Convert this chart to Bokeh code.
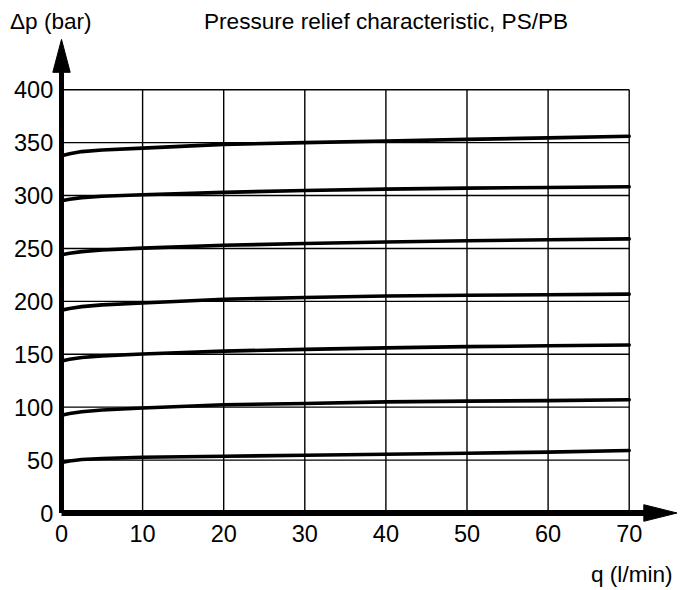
from bokeh.plotting import figure
from bokeh.models import Label, Range1d
from bokeh.core.properties import value
from bokeh.embed import file_html
from bokeh.resources import INLINE

# ---- data ----
flow = [0, 1, 2.5, 5, 10, 20, 30, 40, 50, 60, 70]          # q (l/min)
dp_350 = [337.5, 339.5, 341.5, 343.0, 344.8, 348.3, 350.0, 351.5, 353.0, 354.5, 356.0]
dp_300 = [295.0, 296.5, 298.0, 299.3, 300.7, 303.0, 304.7, 306.0, 307.0, 307.6, 308.3]
dp_250 = [244.0, 245.5, 247.0, 248.5, 250.3, 253.0, 254.6, 256.0, 257.2, 258.2, 259.0]
dp_200 = [191.7, 193.3, 195.0, 196.7, 198.5, 202.0, 203.6, 205.0, 205.7, 206.2, 206.8]
dp_150 = [143.7, 145.2, 147.0, 148.5, 150.2, 153.0, 154.6, 156.0, 157.2, 158.0, 158.7]
dp_100 = [92.3, 94.0, 95.7, 97.3, 99.2, 102.3, 103.5, 105.0, 105.7, 106.2, 107.0]
dp_50 = [47.7, 49.2, 50.5, 51.5, 52.7, 53.6, 54.5, 55.5, 56.5, 57.5, 59.0]
series = [dp_50, dp_100, dp_150, dp_200, dp_250, dp_300, dp_350]

x_ticks = [0, 10, 20, 30, 40, 50, 60, 70]
y_ticks = [0, 50, 100, 150, 200, 250, 300, 350, 400]
x_tick_labels = [str(t) for t in x_ticks]
y_tick_labels = [str(t) for t in y_ticks]

title_text = "Pressure relief characteristic, PS/PB"
y_label = "\u0394p (bar)"
x_label = "q (l/min)"

FONT = "Liberation Sans"

# scale: x=0 at 61 px, 8.11 px per l/min; y=0 at 512.5 px, 1.0583 px per bar
W, H = 683, 590
PXX, PXY = 8.11, 1.0583
X0, Y0 = 61.0, 512.5
x_range = Range1d(-X0 / PXX, (W - X0) / PXX)
y_range = Range1d(-(H - Y0) / PXY, Y0 / PXY)

p = figure(width=W, height=H, min_border=0, x_range=x_range, y_range=y_range,
           x_axis_location=None, y_axis_location=None, title=None,
           output_backend="svg", toolbar_location=None)
p.outline_line_color = None
p.xgrid.visible = False
p.ygrid.visible = False

x_max = x_ticks[-1]
y_max = y_ticks[-1]

# grid lines limited to the chart box
nx, ny = len(x_ticks) - 1, len(y_ticks) - 1
p.segment(x0=x_ticks[1:], y0=[0] * nx, x1=x_ticks[1:], y1=[y_max] * nx,
          line_color="black", line_width=1.4)
p.segment(x0=[0] * ny, y0=y_ticks[1:], x1=[x_max] * ny, y1=y_ticks[1:],
          line_color="black", line_width=1.4)

# curves
for s in series:
    p.line(flow, s, line_color="black", line_width=3.6, line_join="round", line_cap="round")

# axis lines with arrow heads
y_arrow_base, y_arrow_tip = 416.4, 447.5
x_arrow_base, x_arrow_tip = 71.8, 75.9
p.segment(x0=[0], y0=[0], x1=[0], y1=[y_arrow_base + 1], line_color="black", line_width=5)
p.segment(x0=[0], y0=[0], x1=[x_arrow_base + 0.2], y1=[0], line_color="black", line_width=6)
hw_x = 8.7 / PXX
hw_y = 8.3 / PXY
p.patch(x=[-hw_x, hw_x, 0], y=[y_arrow_base, y_arrow_base, y_arrow_tip], color="black")
p.patch(x=[x_arrow_base, x_arrow_base, x_arrow_tip], y=[-hw_y, hw_y, 0], color="black")

# tick labels
p.text(x=x_ticks, y=[0] * len(x_ticks), text=x_tick_labels, y_offset=20.5,
       text_align="center", text_baseline="middle", text_font=value(FONT),
       text_font_size="23.5px", text_color="black")
p.text(x=[0] * len(y_ticks), y=y_ticks, text=y_tick_labels, x_offset=-8.3,
       text_align="right", text_baseline="middle", text_font=value(FONT),
       text_font_size="23.5px", text_color="black")

# texts
top_base = (Y0 - 20.5) / PXY
p.add_layout(Label(x=(9.5 - X0) / PXX, y=top_base, text=y_label, text_font=FONT,
                   text_font_size="22.6px", text_color="black",
                   text_align="left", text_baseline="alphabetic"))
p.add_layout(Label(x=(203.5 - X0) / PXX, y=top_base, text=title_text, text_font=FONT,
                   text_font_size="22.6px", text_color="black",
                   text_align="left", text_baseline="alphabetic"))
p.add_layout(Label(x=(590.5 - X0) / PXX, y=(Y0 - 574) / PXY, text=x_label, text_font=FONT,
                   text_font_size="22.6px", text_color="black",
                   text_align="left", text_baseline="alphabetic"))

open("out.html", "w").write(file_html(p, INLINE))
